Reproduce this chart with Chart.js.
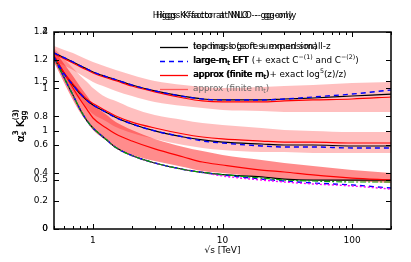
<!DOCTYPE html>
<html>
<head>
<meta charset="utf-8">
<script src="https://cdn.jsdelivr.net/npm/chart.js@4.4.1/dist/chart.umd.min.js"></script>
<style>
body { margin: 0; background: #fff; }
</style>
</head>
<body>
<canvas id="kfactor-chart" width="411" height="262"></canvas>
<script>
// sqrt(s) in TeV
const sqrtS = [0.5, 0.6, 0.7, 0.8, 0.9, 1, 1.25, 1.5, 2, 3, 5, 7, 10, 20, 30, 50, 100, 200];

// upper group of curves
const topExact = [1.251, 1.217, 1.187, 1.159, 1.137, 1.116, 1.084, 1.061, 1.023, 0.981, 0.942, 0.924, 0.917, 0.917, 0.924, 0.931, 0.945, 0.959];
const topEFT = [1.251, 1.217, 1.187, 1.159, 1.137, 1.116, 1.084, 1.061, 1.023, 0.981, 0.942, 0.924, 0.917, 0.917, 0.924, 0.938, 0.959, 0.988];
const topApprox = [1.244, 1.210, 1.180, 1.151, 1.130, 1.109, 1.077, 1.054, 1.016, 0.974, 0.931, 0.910, 0.903, 0.903, 0.910, 0.917, 0.924, 0.938];
const topBandHi = [1.301, 1.272, 1.251, 1.226, 1.205, 1.187, 1.155, 1.130, 1.095, 1.052, 1.023, 1.009, 1.002, 1.009, 1.016, 1.023, 1.038, 1.045];
const topBandLo = [1.194, 1.162, 1.130, 1.098, 1.070, 1.045, 1.009, 0.981, 0.945, 0.903, 0.874, 0.860, 0.846, 0.839, 0.832, 0.832, 0.832, 0.832];

// middle group
const midExact = [1.222, 1.102, 1.023, 0.959, 0.913, 0.881, 0.832, 0.792, 0.746, 0.697, 0.654, 0.633, 0.618, 0.604, 0.597, 0.597, 0.590, 0.590];
const midEFT = [1.222, 1.102, 1.023, 0.959, 0.913, 0.881, 0.832, 0.792, 0.746, 0.697, 0.654, 0.625, 0.611, 0.590, 0.583, 0.583, 0.576, 0.576];
const midApprox = [1.230, 1.109, 1.031, 0.967, 0.920, 0.892, 0.842, 0.803, 0.760, 0.718, 0.675, 0.654, 0.640, 0.625, 0.618, 0.618, 0.611, 0.611];
const midBandHi = [1.286, 1.208, 1.144, 1.087, 1.045, 1.002, 0.938, 0.910, 0.860, 0.810, 0.775, 0.753, 0.739, 0.718, 0.704, 0.697, 0.689, 0.689];
const midBandLo = [1.187, 1.073, 0.974, 0.910, 0.860, 0.817, 0.768, 0.725, 0.682, 0.640, 0.597, 0.576, 0.561, 0.547, 0.547, 0.540, 0.540, 0.540];

// lower group
const lowExact = [1.222, 1.073, 0.952, 0.846, 0.768, 0.718, 0.640, 0.579, 0.522, 0.469, 0.423, 0.402, 0.387, 0.370, 0.355, 0.348, 0.348, 0.348];
const lowEFT = [1.222, 1.073, 0.952, 0.846, 0.768, 0.718, 0.640, 0.579, 0.522, 0.469, 0.423, 0.402, 0.384, 0.355, 0.341, 0.327, 0.313, 0.291];
const lowEFTc1 = [1.222, 1.073, 0.952, 0.846, 0.768, 0.718, 0.640, 0.579, 0.522, 0.469, 0.423, 0.402, 0.387, 0.362, 0.348, 0.341, 0.334, 0.334];
const lowEFTc2 = [1.222, 1.073, 0.952, 0.846, 0.768, 0.718, 0.640, 0.579, 0.522, 0.469, 0.423, 0.402, 0.377, 0.348, 0.334, 0.320, 0.306, 0.284];
const lowApprox = [1.230, 1.109, 1.002, 0.917, 0.849, 0.789, 0.721, 0.675, 0.625, 0.569, 0.512, 0.476, 0.455, 0.419, 0.405, 0.384, 0.362, 0.348];
const lowBandHi = [1.272, 1.173, 1.087, 1.009, 0.945, 0.888, 0.817, 0.760, 0.704, 0.640, 0.583, 0.554, 0.526, 0.490, 0.469, 0.448, 0.419, 0.398];
const lowBandLo = [1.187, 1.038, 0.917, 0.824, 0.760, 0.704, 0.633, 0.576, 0.526, 0.483, 0.441, 0.412, 0.398, 0.370, 0.355, 0.348, 0.341, 0.327];

// axes
const xTicks = [1, 10, 100];
const yTicksA = [0, 0.2, 0.4, 0.6, 0.8, 1, 1.2, 1.4];
const yTicksB = [0, 0.5, 1, 1.5, 2];

const titles = ['Higgs K-factor at NLO -- gg-only', 'Higgs K-factor at NNLO -- gg-only'];

const FONT = '"DejaVu Sans"';

function pts(ys) {
    return sqrtS.map((s, i) => ({ x: s, y: ys[i] }));
}

function line(data, color, width, dash, order) {
    return {
        data: pts(data),
        borderColor: color,
        borderWidth: width,
        borderDash: dash || [],
        pointRadius: 0,
        fill: false,
        cubicInterpolationMode: 'monotone',
        order: order
    };
}

function band(lo, hi, color) {
    return [
        { data: pts(lo), borderWidth: 0, pointRadius: 0, fill: false, cubicInterpolationMode: 'monotone', order: 10 },
        { data: pts(hi), borderWidth: 0, pointRadius: 0, fill: '-1', backgroundColor: color, cubicInterpolationMode: 'monotone', order: 10 }
    ];
}

// text with sub/superscripts, kind: '' | 'sub' | 'sup' | 'stack'
function drawRich(ctx, parts, x, y, size, dry) {
    let cx = x;
    parts.forEach(p => {
        const kind = p[1] || '';
        if (kind === '') {
            ctx.font = size + 'px ' + FONT;
            if (!dry) ctx.fillText(p[0], cx, y);
            cx += ctx.measureText(p[0]).width;
        } else if (kind === 'sub' || kind === 'sup') {
            ctx.font = (size * 0.72) + 'px ' + FONT;
            const dy = kind === 'sub' ? size * 0.3 : -size * 0.4;
            if (!dry) ctx.fillText(p[0], cx, y + dy);
            cx += ctx.measureText(p[0]).width;
        } else {
            ctx.font = (size * 0.72) + 'px ' + FONT;
            if (!dry) {
                ctx.fillText(p[0][0], cx, y + size * 0.3);
                ctx.fillText(p[0][1], cx, y - size * 0.45);
            }
            cx += Math.max(ctx.measureText(p[0][0]).width, ctx.measureText(p[0][1]).width);
        }
    });
    return cx - x;
}

const legendRows = [
    { y: 47, color: '#000', dash: [], texts: [[['top mass (soft + expansion)']], [['leading logs resummed small-z']]] },
    { y: 61, color: '#0000ff', dash: [5, 4], texts: [
        [['large-m'], ['t', 'sub'], [' EFT']],
        [['large-m'], ['t', 'sub'], [' EFT']],
        [['large-m'], ['t', 'sub'], [' EFT (+ exact C'], ['\u2212(1)', 'sup'], [' and C'], ['\u2212(2)', 'sup'], [')']]
    ] },
    { y: 75, color: '#ff0000', dash: [], texts: [
        [['approx (finite m'], ['t', 'sub'], [')']],
        [['approx (finite m'], ['t', 'sub'], [')']],
        [['approx (finite m'], ['t', 'sub'], [' + exact log'], ['5', 'sup'], ['(z)/z)']]
    ] },
    { y: 89, color: '#ff5a5a', dash: [], grey: true, texts: [[['approx (finite m'], ['t', 'sub'], [')']]] }
];

const framePlugin = {
    id: 'frame',
    afterDraw(chart) {
        const ctx = chart.ctx;
        const a = chart.chartArea;
        const xs = chart.scales.x, ya = chart.scales.y, yb = chart.scales.y2;
        ctx.save();
        ctx.strokeStyle = '#000';
        ctx.fillStyle = '#000';
        ctx.lineWidth = 1;

        // y ticks, both sides, pointing in
        ctx.beginPath();
        yTicksA.forEach(v => {
            const py = Math.round(ya.getPixelForValue(v)) + 0.5;
            ctx.moveTo(a.left, py); ctx.lineTo(a.left + 5, py);
            ctx.moveTo(a.right, py); ctx.lineTo(a.right - 5, py);
        });
        yTicksB.forEach(v => {
            const py = Math.round(yb.getPixelForValue(v)) + 0.5;
            ctx.moveTo(a.left, py); ctx.lineTo(a.left + 5, py);
            ctx.moveTo(a.right, py); ctx.lineTo(a.right - 5, py);
        });
        // x ticks, major and minor
        for (let dec = 0.1; dec <= 100; dec *= 10) {
            for (let k = 1; k < 10; k++) {
                const v = dec * k;
                if (v < 0.5 || v > 200) continue;
                const px = Math.round(xs.getPixelForValue(v)) + 0.5;
                const len = k === 1 ? 5 : 3;
                ctx.moveTo(px, a.bottom); ctx.lineTo(px, a.bottom - len);
                ctx.moveTo(px, a.top); ctx.lineTo(px, a.top + len);
            }
        }
        ctx.stroke();

        ctx.lineWidth = 1.5;
        ctx.strokeRect(a.left, a.top, a.right - a.left, a.bottom - a.top);

        // second set of y labels (overlaid plot)
        ctx.font = '9px ' + FONT;
        ctx.textAlign = 'right';
        ctx.textBaseline = 'middle';
        yTicksB.forEach(v => {
            ctx.fillText(String(v), a.left - 6, yb.getPixelForValue(v));
        });

        // titles
        ctx.textAlign = 'center';
        ctx.font = '8.7px ' + FONT;
        titles.forEach(t => ctx.fillText(t, (a.left + a.right) / 2 + 2, 16));

        // x axis title
        ctx.font = '9px ' + FONT;
        ctx.fillText('\u221As [TeV]', (a.left + a.right) / 2, 251);

        // y axis title, rotated
        ctx.save();
        ctx.translate(21, 126);
        ctx.rotate(-Math.PI / 2);
        ctx.textAlign = 'left';
        const yParts = [['\u03B1'], [['s', '3'], 'stack'], [' K'], [['gg', '(3)'], 'stack']];
        const w = drawRich(ctx, yParts, 0, 0, 10.5, true);
        drawRich(ctx, yParts, -w / 2, 0, 10.5);
        drawRich(ctx, yParts, -w / 2 + 0.4, 0, 10.5);
        ctx.restore();

        // legend
        ctx.textAlign = 'left';
        legendRows.forEach(row => {
            ctx.beginPath();
            ctx.strokeStyle = row.color;
            ctx.lineWidth = 1.3;
            ctx.setLineDash(row.dash);
            ctx.moveTo(160, row.y + 0.5);
            ctx.lineTo(188, row.y + 0.5);
            ctx.stroke();
            ctx.setLineDash([]);
            ctx.fillStyle = row.grey ? '#666' : '#000';
            row.texts.forEach((t, i) => {
                drawRich(ctx, t, 193 + i * 0.4, row.y, 8.8);
            });
        });
        ctx.restore();
    }
};

const ctx = document.getElementById('kfactor-chart').getContext('2d');
const kChart = new Chart(ctx, {
    type: 'line',
    data: {
        datasets: [
            line(topExact, '#000000', 1.2, [], 3),
            line(topApprox, '#ff0000', 1.2, [], 2),
            line(topEFT, '#0000ff', 1.4, [5, 4], 1),
            line(midExact, '#000000', 1.2, [], 3),
            line(midApprox, '#ff0000', 1.2, [], 2),
            line(midEFT, '#0000ff', 1.4, [5, 4], 1),
            line(lowExact, '#000000', 1.2, [], 3),
            line(lowApprox, '#ff0000', 1.2, [], 2),
            line(lowEFTc1, '#00a000', 1.2, [6, 2, 2, 2], 1),
            line(lowEFTc2, '#ff00ff', 1.4, [2, 2], 1),
            line(lowEFT, '#0000ff', 1.4, [5, 4], 1),
            ...band(topBandLo, topBandHi, 'rgba(255,0,0,0.25)'),
            ...band(midBandLo, midBandHi, 'rgba(255,0,0,0.25)'),
            ...band(lowBandLo, lowBandHi, 'rgba(255,0,0,0.45)')
        ]
    },
    options: {
        responsive: false,
        animation: false,
        devicePixelRatio: 1,
        layout: { padding: { left: 0, right: 20, top: 32, bottom: 0 } },
        plugins: {
            legend: { display: false },
            title: { display: false },
            tooltip: { enabled: false },
            filler: { propagate: false }
        },
        scales: {
            x: {
                type: 'logarithmic',
                min: 0.5,
                max: 200,
                grid: { display: false, drawTicks: false },
                border: { display: false },
                afterBuildTicks: s => { s.ticks = xTicks.map(v => ({ value: v })); },
                afterFit: s => { s.height = 33; },
                ticks: {
                    padding: 6,
                    maxRotation: 0,
                    color: '#000',
                    font: { family: 'DejaVu Sans', size: 9 },
                    callback: v => String(v)
                }
            },
            y: {
                min: 0,
                max: 1.4,
                grid: { display: false, drawTicks: false },
                border: { display: false },
                afterBuildTicks: s => { s.ticks = yTicksA.map(v => ({ value: v })); },
                afterFit: s => { s.width = 54; },
                ticks: {
                    padding: 6,
                    color: '#000',
                    font: { family: 'DejaVu Sans', size: 9 },
                    callback: v => String(Math.round(v * 10) / 10)
                }
            },
            y2: {
                display: false,
                min: 0,
                max: 2
            }
        }
    },
    plugins: [framePlugin]
});
</script>
</body>
</html>
